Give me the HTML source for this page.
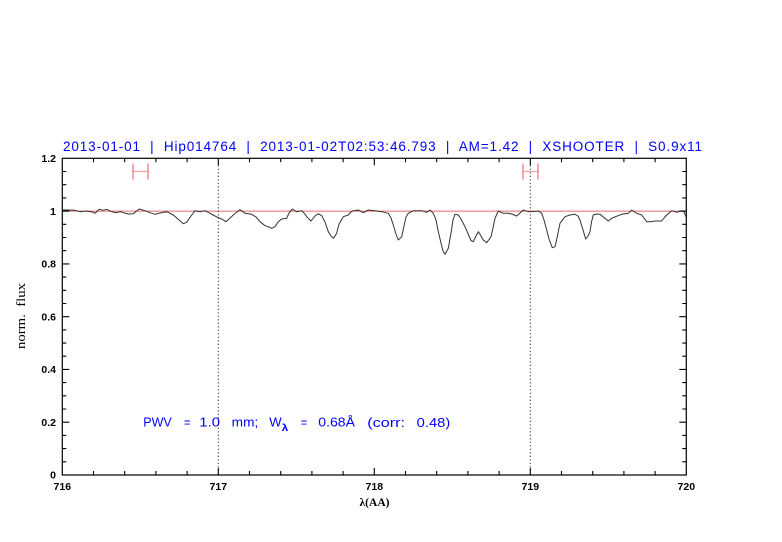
<!DOCTYPE html>
<html><head><meta charset="utf-8"><style>
html,body{margin:0;padding:0;background:#fff;}
svg{display:block;}
svg text{white-space:pre;}
</style></head><body>
<svg width="782" height="542" viewBox="0 0 782 542" xmlns="http://www.w3.org/2000/svg" xml:space="preserve">
<rect width="782" height="542" fill="#fff"/>
<!-- title -->
<text x="63" y="151" font-family="Liberation Sans, sans-serif" font-size="13.5" fill="#0000ff" textLength="639" lengthAdjust="spacing">2013-01-01  |  Hip014764  |  2013-01-02T02:53:46.793  |  AM=1.42  |  XSHOOTER  |  S0.9x11</text>
<!-- 1.0 line -->
<line x1="62.3" y1="211.1" x2="686.3" y2="211.1" stroke="#e86a6a" stroke-width="1"/>
<!-- dotted verticals -->
<line x1="218.3" y1="158.3" x2="218.3" y2="475" stroke="#333" stroke-width="1" stroke-dasharray="1.2,2.3"/>
<line x1="530.3" y1="158.3" x2="530.3" y2="475" stroke="#333" stroke-width="1" stroke-dasharray="1.2,2.3"/>
<!-- error bars -->
<g stroke-width="1.3">
<line x1="133" y1="171.5" x2="148" y2="171.5" stroke="#f4a4a4"/>
<line x1="133" y1="163.5" x2="133" y2="179.5" stroke="#ee7a7a"/>
<line x1="148" y1="163.5" x2="148" y2="179.5" stroke="#ee7a7a"/>
<line x1="523" y1="171.5" x2="538" y2="171.5" stroke="#f4a4a4"/>
<line x1="523" y1="163.5" x2="523" y2="179.5" stroke="#ee7a7a"/>
<line x1="538" y1="163.5" x2="538" y2="179.5" stroke="#ee7a7a"/>
</g>
<!-- spectrum -->
<polyline fill="none" stroke="#333" stroke-width="1" stroke-linejoin="round" points="62.3,210 67,210 75,210.3 80,211.7 86.7,211 93.3,212.3 95,213.3 99.3,209.3 103.3,210.3 106.7,209.3 111.7,211.7 116.7,212.7 120,211.7 123.3,212.7 128.3,214 133.3,213.7 139.3,209 145,210.7 150,212.7 155,214.3 160,213 166.7,211.7 173.3,215 178,219 183.3,223.7 186.7,222.3 191,216 195,210.7 200,211.7 205,210.7 210,213.3 214,215.5 218.3,217.7 221.7,219 226,221.7 229,219 233.3,215 237,212 240,209.7 245,213.3 251.7,214.3 256,217 260,221.7 265,225.7 268.3,226.7 271.7,228.3 275,226.7 278,222 281.7,219 286.7,218.3 289,213 292.3,209 296.7,211.7 301.7,210.7 304,213 306.7,216.7 311,221 315,216 318.3,213.7 321.7,215.7 325,222 328.3,231.7 331,236 333.3,238.3 336.7,233.3 339,224 343.3,216.7 348.3,215 351,212 353.3,210.7 358.3,210 363.3,212.7 368.3,210 375,210.7 381.7,211.7 388.3,213.3 391,218 393.3,225 396,234 398.3,240 401.7,236.7 404,226 406,217 408.3,213.3 413.3,210.7 421.7,210.7 426.7,212.3 430,210 433.3,213.3 436,220 438.3,231.7 441,243 443,251 445,254.3 448.3,248.3 451,233 453,220 455,214.3 458.3,215 461,219 465,226.7 469,236 471,240.5 473.3,241.7 476,236 478.3,231.7 481,236 483.3,240 486.7,242.7 489,239.5 491,236.7 493,228 495,218.3 498.3,211 503.3,213.3 508.3,213.3 511.7,214 516.7,216 520,213 523.3,210 528.3,211.7 533,211.5 538.3,211 541.7,213.3 544,220 546.7,230 549,239 552.3,247.7 555,246.7 557,238 560,223.3 565,216.7 570,215 575,214.3 578,216 580,220 583,230 585.7,239 588,236 590,231.7 591.5,222 593.3,215 597,214 600,214.3 605,218.3 608.3,221 611.7,218.3 616,216.5 621.7,214.3 628.3,213.3 631.7,210 636.7,213.3 641.7,215 646.7,221.7 650,221.7 655,221 661.7,221 664,218 666.7,215 671.7,210.7 676.7,212.3 681.7,210.7 684,212 686.3,217"/>
<!-- axes box -->
<rect x="62.3" y="158.3" width="624" height="316.7" fill="none" stroke="#000" stroke-width="1.2"/>
<!-- ticks -->
<path stroke="#000" stroke-width="1.1" fill="none" d="
M218.3 475v-7M374.3 475v-7M530.3 475v-7
M218.3 158.3v7M374.3 158.3v7M530.3 158.3v7
M93.5 475v-4M124.7 475v-4M155.9 475v-4M187.1 475v-4M249.5 475v-4M280.7 475v-4M311.9 475v-4M343.1 475v-4M405.5 475v-4M436.7 475v-4M467.9 475v-4M499.1 475v-4M561.5 475v-4M592.7 475v-4M623.9 475v-4M655.1 475v-4
M93.5 158.3v4M124.7 158.3v4M155.9 158.3v4M187.1 158.3v4M249.5 158.3v4M280.7 158.3v4M311.9 158.3v4M343.1 158.3v4M405.5 158.3v4M436.7 158.3v4M467.9 158.3v4M499.1 158.3v4M561.5 158.3v4M592.7 158.3v4M623.9 158.3v4M655.1 158.3v4
M62.3 422.2h7M62.3 369.4h7M62.3 316.7h7M62.3 263.9h7M62.3 211.1h7
M686.3 422.2h-7M686.3 369.4h-7M686.3 316.7h-7M686.3 263.9h-7M686.3 211.1h-7
M62.3 461.8h4M62.3 448.6h4M62.3 435.4h4M62.3 409h4M62.3 395.8h4M62.3 382.6h4M62.3 356.2h4M62.3 343.1h4M62.3 329.9h4M62.3 303.5h4M62.3 290.3h4M62.3 277.1h4M62.3 250.7h4M62.3 237.5h4M62.3 224.3h4M62.3 197.9h4M62.3 184.7h4M62.3 171.5h4
M686.3 461.8h-4M686.3 448.6h-4M686.3 435.4h-4M686.3 409h-4M686.3 395.8h-4M686.3 382.6h-4M686.3 356.2h-4M686.3 343.1h-4M686.3 329.9h-4M686.3 303.5h-4M686.3 290.3h-4M686.3 277.1h-4M686.3 250.7h-4M686.3 237.5h-4M686.3 224.3h-4M686.3 197.9h-4M686.3 184.7h-4M686.3 171.5h-4
"/>
<!-- y tick labels -->
<g font-family="Liberation Sans, sans-serif" font-size="10.5" fill="#000" text-anchor="end" font-weight="bold">
<text x="56" y="162">1.2</text>
<text x="56" y="214.8">1</text>
<text x="56" y="267.6">0.8</text>
<text x="56" y="320.4">0.6</text>
<text x="56" y="373.1">0.4</text>
<text x="56" y="425.9">0.2</text>
<text x="56" y="478.7">0</text>
</g>
<!-- x tick labels -->
<g font-family="Liberation Sans, sans-serif" font-size="10.5" fill="#000" text-anchor="middle" font-weight="bold">
<text x="62.3" y="490">716</text>
<text x="218.3" y="490">717</text>
<text x="374.3" y="490">718</text>
<text x="530.3" y="490">719</text>
<text x="686.3" y="490">720</text>
</g>
<!-- axis labels -->
<text x="374.5" y="506" font-family="Liberation Serif, serif" font-size="11.5" text-anchor="middle" fill="#000" font-weight="bold">λ(AA)</text>
<text transform="translate(25,316) rotate(-90)" x="0" y="0" font-family="Liberation Serif, serif" font-size="13" text-anchor="middle" fill="#000" textLength="66" lengthAdjust="spacingAndGlyphs">norm.  flux</text>
<!-- PWV annotation -->
<g font-family="Liberation Sans, sans-serif" font-size="13" fill="#0000ff">
<text x="143.3" y="426.5" textLength="28.4" lengthAdjust="spacingAndGlyphs">PWV</text>
<text x="184" y="426.5" textLength="6.5" lengthAdjust="spacingAndGlyphs">=</text>
<text x="199.3" y="426.5" textLength="20.7" lengthAdjust="spacingAndGlyphs">1.0</text>
<text x="231.7" y="426.5" textLength="26.6" lengthAdjust="spacingAndGlyphs">mm;</text>
<text x="269.3" y="426.5" textLength="12.4" lengthAdjust="spacingAndGlyphs">W</text>
<text x="281.7" y="431" font-size="10" textLength="6.6" lengthAdjust="spacingAndGlyphs" font-weight="bold">λ</text>
<text x="300.8" y="426.5" textLength="6.5" lengthAdjust="spacingAndGlyphs">=</text>
<text x="318.3" y="426.5" textLength="36.7" lengthAdjust="spacingAndGlyphs">0.68Å</text>
<text x="367.3" y="427" textLength="37.7" lengthAdjust="spacingAndGlyphs">(corr:</text>
<text x="416.7" y="427" textLength="33.6" lengthAdjust="spacingAndGlyphs">0.48)</text>
</g>
</svg>
</body></html>
